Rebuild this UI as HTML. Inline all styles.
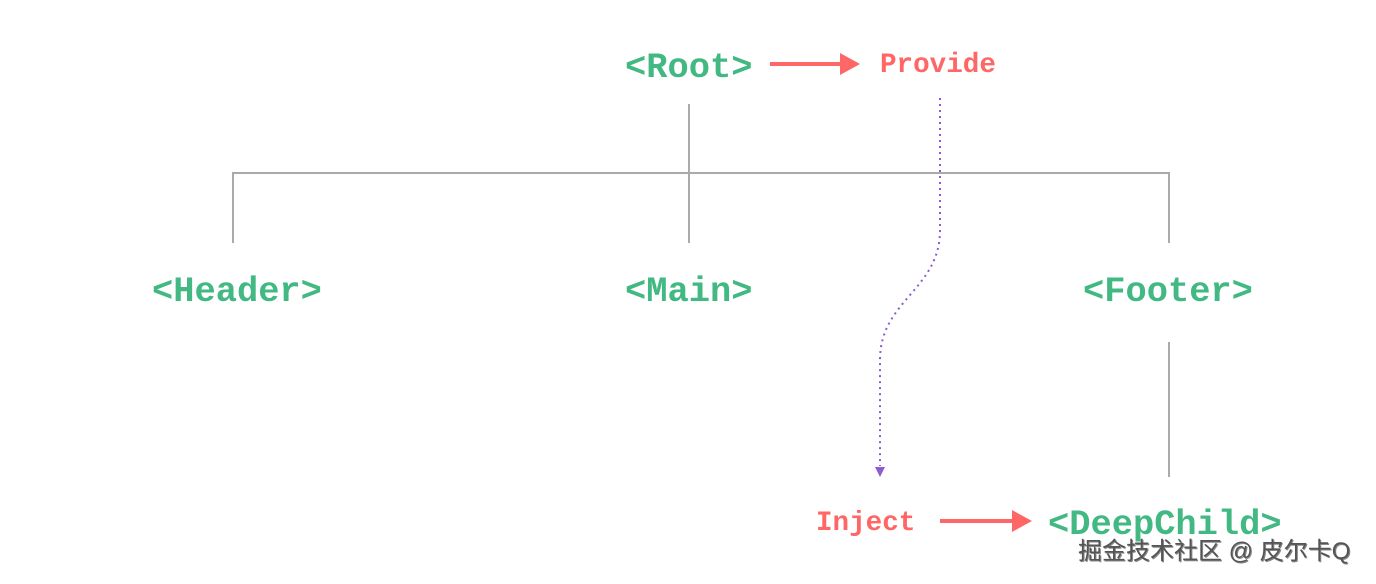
<!DOCTYPE html>
<html><head><meta charset="utf-8"><style>
html,body{margin:0;padding:0;background:#fff;width:1376px;height:584px;overflow:hidden}
svg{display:block}
.g{fill:#42b883;font-family:"Liberation Mono",monospace;font-weight:bold;font-size:35.4px}
.r{fill:#f66;font-family:"Liberation Mono",monospace;font-weight:bold;font-size:27.6px}
.w{font-family:"Liberation Sans","Noto Sans CJK SC",sans-serif;font-size:24px}
</style></head><body>
<svg width="1376" height="584" viewBox="0 0 1376 584">
<g stroke="#aaa" stroke-width="2" fill="none">
<line x1="689" y1="104" x2="689" y2="243"/>
<polyline points="233,243 233,173 1169,173 1169,243"/>
<line x1="1169" y1="342" x2="1169" y2="477"/>
</g>
<g stroke="#f66" stroke-width="4" fill="#f66">
<line x1="770" y1="64" x2="842" y2="64"/>
<line x1="940" y1="521" x2="1014" y2="521"/>
</g>
<polygon points="840,53 860,64 840,75" fill="#f66"/>
<polygon points="1012,510 1032,521 1012,532" fill="#f66"/>
<path d="M940,98 L940,230 C940,290 880,300 880,360 L880,466" stroke="#8a5cd0" stroke-width="2" stroke-dasharray="2,4" fill="none"/>
<polygon points="875,467 885,467 880,477" fill="#8a5cd0"/>
<text class="g" x="625" y="77">&lt;Root&gt;</text>
<text class="r" x="880" y="72">Provide</text>
<text class="g" x="152" y="301">&lt;Header&gt;</text>
<text class="g" x="625" y="301">&lt;Main&gt;</text>
<text class="g" x="1083" y="301">&lt;Footer&gt;</text>
<text class="r" x="816" y="530">Inject</text>
<text class="g" x="1048" y="534">&lt;DeepChild&gt;</text>
<text class="w" x="1080" y="561" fill="#fff" stroke="#fff" stroke-width="3">掘金技术社区 @ 皮尔卡Q</text>
<text class="w" x="1079" y="560" fill="#888">掘金技术社区 @ 皮尔卡Q</text>
<text class="w" x="1078" y="559" fill="#555">掘金技术社区 @ 皮尔卡Q</text>
</svg>
</body></html>
